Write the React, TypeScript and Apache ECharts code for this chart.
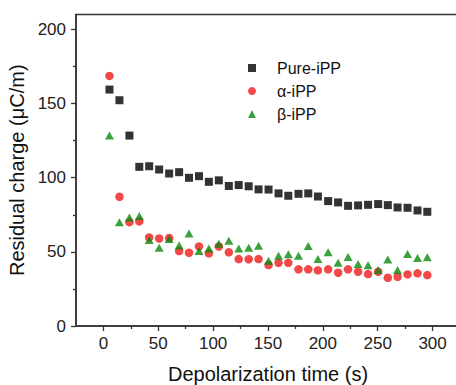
import React, { useEffect, useRef } from "react";
import * as echarts from "echarts";

const times = [5.5, 14.6, 23.7, 32.7, 41.7, 50.8, 59.9, 69.0, 78.0, 87.1, 96.1, 105.2, 114.3, 123.3, 132.4, 141.4, 150.5, 159.6, 168.5, 177.8, 186.7, 195.5, 204.8, 213.9, 223.0, 232.1, 241.2, 250.4, 259.2, 268.1, 277.2, 286.3, 295.2];
const pureIPP = [159.4, 152.2, 128.4, 107.3, 107.7, 105.5, 102.8, 103.7, 99.9, 101.0, 97.2, 98.2, 94.4, 95.0, 94.2, 92.1, 92.0, 89.4, 87.8, 89.1, 89.4, 87.3, 84.2, 83.3, 81.0, 81.3, 81.7, 82.2, 81.5, 79.9, 79.7, 77.9, 77.0];
const alphaIPP = [168.6, 87.1, 70.0, 70.5, 59.7, 59.0, 59.3, 50.5, 49.4, 53.6, 49.0, 53.6, 49.7, 45.1, 45.0, 45.1, 41.1, 42.6, 42.6, 38.2, 38.2, 37.5, 38.2, 35.9, 38.2, 36.6, 35.0, 36.6, 32.5, 33.2, 34.8, 35.5, 34.3];
const betaIPP = [128.4, 70.0, 73.2, 74.1, 57.9, 52.7, 58.6, 54.2, 62.4, 50.5, 52.2, 55.5, 57.5, 52.3, 52.7, 54.1, 44.0, 47.3, 48.3, 47.3, 53.9, 45.1, 49.8, 42.6, 46.5, 41.8, 40.9, 37.7, 44.9, 37.7, 48.5, 45.8, 46.3];
const seriesNames = ["Pure-iPP", "α-iPP", "β-iPP"];
const xMajor = [0, 50, 100, 150, 200, 250, 300];
const yMajor = [0, 50, 100, 150, 200];
const xTitle = "Depolarization time (s)";
const yTitle = "Residual charge (μC/m)";

const FONT = "'Liberation Sans', Arial, sans-serif";

export default function App() {
  const ref = useRef<HTMLDivElement>(null);
  useEffect(() => {
    if (!ref.current) return;
    const chart = echarts.init(ref.current, null, { renderer: "svg" });
    const zip = (ys: number[]) => times.map((t, i) => [t, ys[i]]);
    const axisColor = "#333333";
    chart.setOption({
      animation: false,
      backgroundColor: "#fff",
      textStyle: { fontFamily: FONT },
      grid: {
        left: 76,
        top: 14.5,
        width: 384,
        height: 311.5,
        outerBoundsMode: "none",
        show: true,
        borderColor: axisColor,
        borderWidth: 1.5,
        backgroundColor: "rgba(0,0,0,0)",
      },
      legend: {
        orient: "vertical",
        left: 243,
        top: 54,
        itemWidth: 8,
        itemHeight: 8,
        itemGap: 5,
        data: seriesNames,
        textStyle: { fontSize: 16, color: "#111", fontFamily: FONT, lineHeight: 18, padding: [0, 0, 0, 16] },
      },
      xAxis: [
        {
          type: "value",
          min: -25,
          max: 325,
          splitNumber: 7,
          position: "bottom",
          name: xTitle,
          nameLocation: "middle",
          nameGap: 38,
          nameTextStyle: { fontSize: 20, color: "#111", fontFamily: FONT },
          axisLine: { show: true, onZero: false, lineStyle: { color: axisColor, width: 1.5 } },
          axisTick: { show: true, inside: false, length: 5, customValues: xMajor, lineStyle: { color: axisColor, width: 1.3 } },
          minorTick: { show: true, splitNumber: 2, length: 3, lineStyle: { color: axisColor, width: 1.3 } },
          axisLabel: { show: true, customValues: xMajor, fontSize: 17, color: "#222", margin: 9, fontFamily: FONT },
          splitLine: { show: false },
          minorSplitLine: { show: false },
        },
      ],
      yAxis: [
        {
          type: "value",
          min: 0,
          max: 210,
          interval: 50,
          position: "left",
          name: yTitle,
          nameLocation: "middle",
          nameGap: 35,
          nameTextStyle: { fontSize: 20, color: "#111", fontFamily: FONT },
          axisLine: { show: true, onZero: false, lineStyle: { color: axisColor, width: 1.5 } },
          axisTick: { show: true, inside: false, length: 5, customValues: yMajor, lineStyle: { color: axisColor, width: 1.3 } },
          minorTick: { show: true, splitNumber: 2, length: 3, lineStyle: { color: axisColor, width: 1.3 } },
          axisLabel: { show: true, customValues: yMajor, fontSize: 17, color: "#222", margin: 10, fontFamily: FONT },
          splitLine: { show: false },
          minorSplitLine: { show: false },
        },
      ],
      series: [
        {
          name: seriesNames[0],
          type: "scatter",
          symbol: "rect",
          symbolSize: 8,
          itemStyle: { color: "#000" },
          data: zip(pureIPP),
        },
        {
          name: seriesNames[1],
          type: "scatter",
          symbol: "circle",
          symbolSize: 8.5,
          itemStyle: { color: "#f01a1a" },
          data: zip(alphaIPP),
        },
        {
          name: seriesNames[2],
          type: "scatter",
          symbol: "triangle",
          symbolSize: [9, 8],
          itemStyle: { color: "#0b8a0b" },
          data: zip(betaIPP),
        },
      ],
    });
    return () => chart.dispose();
  }, []);
  return <div ref={ref} style={{ position: "fixed", left: 0, top: 0, width: 456, height: 385 }} />;
}
